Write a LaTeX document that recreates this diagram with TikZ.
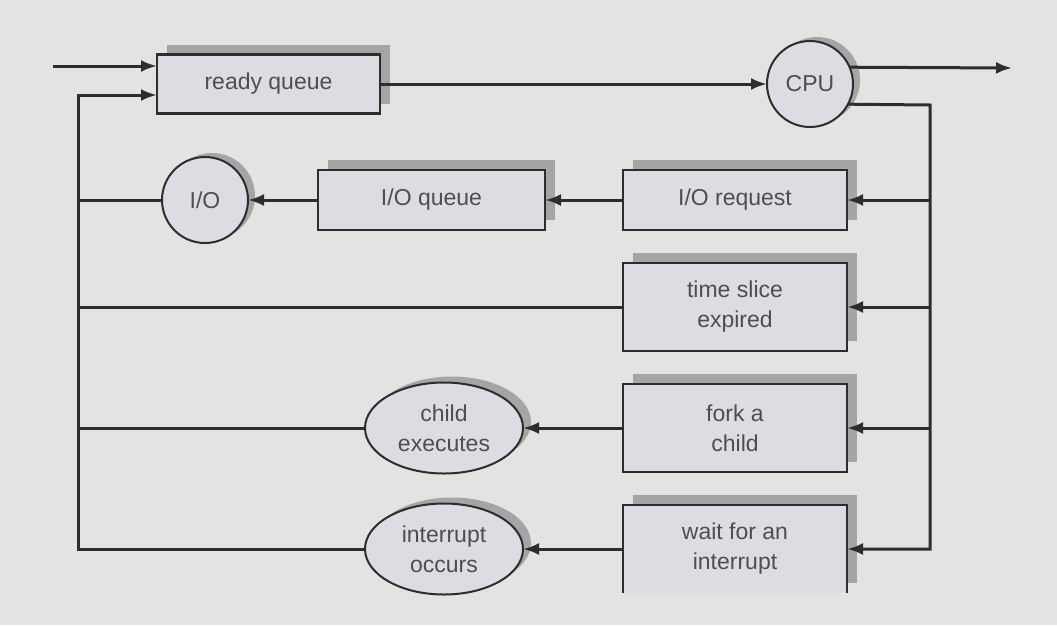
\documentclass[tikz,border=0pt]{standalone}
\usepackage{fontspec}
\setmainfont{Liberation Sans}
\usepackage{tikz}
\usetikzlibrary{arrows.meta,positioning,shapes.geometric,shadows}
\definecolor{SchedBg}{RGB}{227,227,225}
\definecolor{SchedFill}{RGB}{221,220,226}
\definecolor{SchedShade}{RGB}{165,165,165}
\definecolor{SchedInk}{RGB}{45,45,45}
\definecolor{SchedText}{RGB}{78,78,78}

\begin{document}
\begin{tikzpicture}[
  x=1pt, y=-1pt,
  node distance=33pt and 78pt,
  every node/.style={font=\fontsize{23}{30}\selectfont, text=SchedText, align=center, outer sep=0pt},
  queue/.style={draw=SchedInk, line width=2.5pt, fill=SchedFill, minimum width=224pt, minimum height=60pt,
    drop shadow={shadow xshift=10pt, shadow yshift=10pt, fill=SchedShade, opacity=1}},
  tallqueue/.style={queue, minimum height=88pt},
  unit/.style={circle, draw=SchedInk, line width=2pt, fill=SchedFill, minimum size=86pt, inner sep=0pt,
    drop shadow={shadow xshift=7pt, shadow yshift=4pt, fill=SchedShade, opacity=1}},
  event/.style={ellipse, draw=SchedInk, line width=2pt, fill=SchedFill, minimum width=158pt, minimum height=91pt, inner sep=0pt,
    drop shadow={shadow xshift=8pt, shadow yshift=6pt, fill=SchedShade, opacity=1}},
  line/.style={draw=SchedInk, line width=3pt},
  flow/.style={line, -{Latex[length=16pt, width=12pt]}}
]
\fill[SchedBg] (0,0) rectangle (1057,625);
\useasboundingbox (0,0) rectangle (1057,625);

% top row
\node[queue, minimum width=223pt, minimum height=59pt] (ready) at (268.5,84) {ready queue};
\node[unit] (cpu) at (810,84) {CPU};

% right column of events
\node[queue] (ioreq) at (735,200) {I/O request};
\node[tallqueue, below=of ioreq] (slice) {time slice\\expired};
\node[tallqueue, below=of slice] (fork) {fork a\\child};
\node[tallqueue, draw=none, below=of fork] (wait) {wait for an\\interrupt};
\draw[SchedInk, line width=2.5pt] (wait.south west) |- (wait.north east) -- (wait.south east);

% left side
\node[queue, minimum width=227pt, left=of ioreq] (ioq) {I/O queue};
\node[unit, left=70pt of ioq] (io) {I/O};
\node[event, left=100pt of fork] (child) {child\\executes};
\node[event, left=100pt of wait] (intr) {interrupt\\occurs};

\coordinate (busR) at (930,105);
\coordinate (busL) at (78,0);
\coordinate (entry) at (53,66);
\coordinate (leave) at (1012,68);
\coordinate (feed) at ([yshift=-11pt]ready.west);

\draw[flow] (entry) -- (entry -| ready.west);
\draw[flow] (ready) -- (cpu);
\draw[flow] (cpu.23) -- (leave);

% CPU to the events
\draw[flow] (cpu.-28) -- (busR) |- (wait.east);
\draw[flow] (busR |- ioreq.east) -- (ioreq.east);
\draw[flow] (busR |- slice.east) -- (slice.east);
\draw[flow] (busR |- fork.east) -- (fork.east);

\draw[flow] (ioreq) -- (ioq);
\draw[flow] (ioq) -- (io);
\draw[flow] (fork) -- (child);
\draw[flow] (wait) -- (intr);

% back to the ready queue
\draw[line] (io.west) -- (busL |- io.west);
\draw[line] (slice.west) -- (busL |- slice.west);
\draw[line] (child.west) -- (busL |- child.west);
\draw[flow] (intr.west) -| (busL |- feed) -- (feed);
\end{tikzpicture}
\end{document}
